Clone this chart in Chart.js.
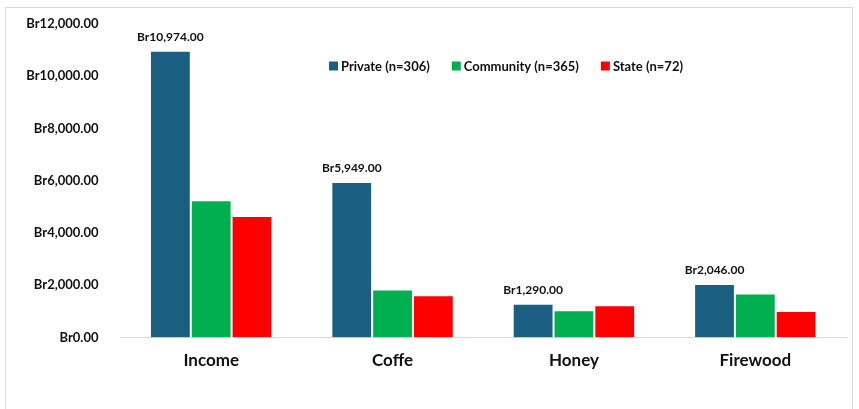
<!DOCTYPE html>
<html lang="en">
<head>
    <meta charset="UTF-8">
    <title>Income by forest ownership</title>
    <style>
        html, body { margin: 0; padding: 0; background: #fff; }
        #wrap { width: 859px; height: 409px; }
    </style>
</head>
<body>
    <div id="wrap"><canvas id="chart" width="859" height="409"></canvas></div>

    <script src="https://cdn.jsdelivr.net/npm/chart.js"></script>
    <script>
        // data
        const categories = ['Income', 'Coffe', 'Honey', 'Firewood'];
        const seriesNames = ['Private (n=306)', 'Community (n=365)', 'State (n=72)'];
        const privateVals = [10974, 5949, 1290, 2046];
        const communityVals = [5250, 1835, 1045, 1680];
        const stateVals = [4655, 1620, 1235, 1018];
        const yTicks = [0, 2000, 4000, 6000, 8000, 10000, 12000];

        const colors = ['#1a5e82', '#00b050', '#ff0000'];
        const FONT = "Candara, Lato, 'Open Sans', sans-serif";

        function money(v) {
            return 'Br' + v.toLocaleString('en-US', { minimumFractionDigits: 2, maximumFractionDigits: 2 });
        }

        // light frame round the chart
        const framePlugin = {
            id: 'frame',
            beforeDraw(chart) {
                const c = chart.ctx;
                c.save();
                c.strokeStyle = '#d9d9d9';
                c.lineWidth = 1;
                c.strokeRect(5.5, 7.5, 847, 430);
                c.restore();
            }
        };

        // value labels above the Private bars only
        const labelPlugin = {
            id: 'privLabels',
            afterDatasetsDraw(chart) {
                const c = chart.ctx;
                const meta = chart.getDatasetMeta(0);
                c.save();
                c.font = 'bold 12px ' + FONT;
                c.fillStyle = '#111';
                c.textAlign = 'center';
                c.textBaseline = 'middle';
                meta.data.forEach((bar, i) => {
                    c.fillText(money(chart.data.datasets[0].data[i]), bar.x, bar.y - 14);
                });
                c.restore();
            }
        };

        // legend drawn inside the plot area, like the original
        const legendPlugin = {
            id: 'innerLegend',
            afterDraw(chart) {
                const c = chart.ctx;
                c.save();
                c.font = 'bold 13px ' + FONT;
                c.textBaseline = 'middle';
                c.textAlign = 'left';
                const box = 9, gapBox = 3, gapItem = 22, y = 66;
                const widths = chart.data.datasets.map(d => box + gapBox + c.measureText(d.label).width);
                const total = widths.reduce((a, b) => a + b, 0) + gapItem * (widths.length - 1);
                let x = 506 - total / 2;
                chart.data.datasets.forEach((d, i) => {
                    c.fillStyle = d.backgroundColor;
                    c.fillRect(x, y - box / 2, box, box);
                    c.fillStyle = '#111';
                    c.fillText(d.label, x + box + gapBox, y + 1);
                    x += widths[i] + gapItem;
                });
                c.restore();
            }
        };

        const ds = [privateVals, communityVals, stateVals].map((vals, i) => ({
            label: seriesNames[i],
            data: vals,
            backgroundColor: colors[i],
            borderColor: '#ffffff',
            borderWidth: 1,
            categoryPercentage: 0.675,
            barPercentage: 1.0
        }));

        new Chart(document.getElementById('chart'), {
            type: 'bar',
            data: { labels: categories, datasets: ds },
            plugins: [framePlugin, labelPlugin, legendPlugin],
            options: {
                responsive: false,
                animation: false,
                layout: { padding: { top: 24, right: 13, bottom: 0, left: 0 } },
                plugins: {
                    legend: { display: false },
                    tooltip: { enabled: false }
                },
                scales: {
                    x: {
                        grid: { display: false },
                        border: { display: true, color: '#d9d9d9', width: 1 },
                        ticks: {
                            color: '#111',
                            padding: 5,
                            font: { family: FONT, size: 17, weight: 'bold' }
                        },
                        afterFit(scale) { scale.height = 71.5; }
                    },
                    y: {
                        min: 0,
                        max: 12000,
                        grid: { display: false },
                        border: { display: false },
                        afterBuildTicks(scale) {
                            scale.ticks = yTicks.map(v => ({ value: v }));
                        },
                        ticks: {
                            color: '#111',
                            padding: 14,
                            font: { family: FONT, size: 13, weight: 'bold' },
                            callback: v => money(v)
                        },
                        afterFit(scale) { scale.width = 120.5; }
                    }
                }
            }
        });
    </script>
</body>
</html>
